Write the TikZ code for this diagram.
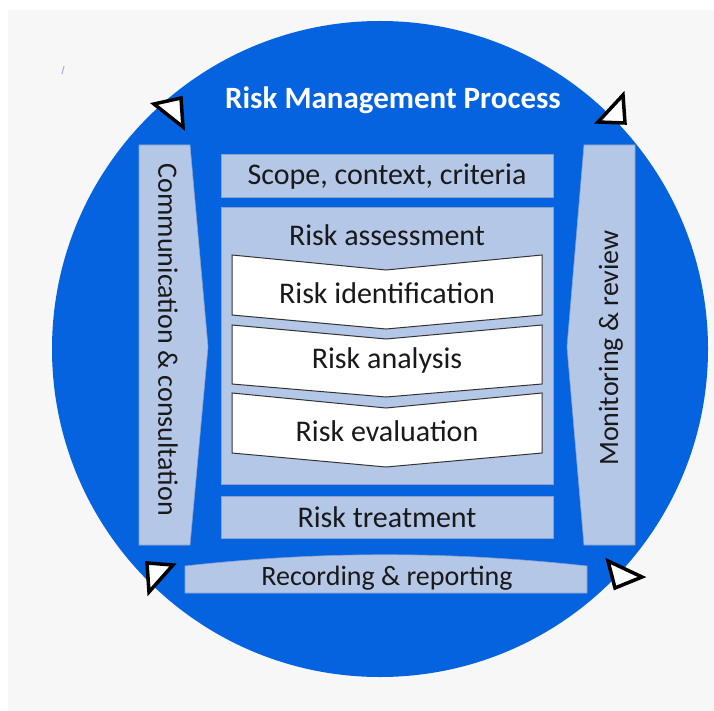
\documentclass[tikz,border=0pt]{standalone}
\usepackage{fontspec}
\setmainfont{Carlito}
\definecolor{discblue}{RGB}{5,99,224}
\definecolor{panelblue}{RGB}{181,199,231}
\definecolor{paneledge}{RGB}{140,162,204}
\definecolor{inkdark}{RGB}{25,25,25}
\definecolor{paper}{RGB}{247,247,247}
\begin{document}
\begin{tikzpicture}[x=1pt,y=-1pt,
  panel/.style={fill=panelblue,draw=paneledge,line width=0.6pt},
  chevron/.style={fill=white,draw=black!80,line width=1pt,line join=miter},
  lbl/.style={text=inkdark,inner sep=0pt,font=\fontsize{30}{36}\selectfont},
  sidelbl/.style={text=inkdark,inner sep=0pt,font=\fontsize{28}{34}\selectfont},
  cycletip/.style={fill=white,draw=black,line width=3.5pt,line join=miter}]
% canvas
\useasboundingbox (0,0) rectangle (714,711);
\fill[white] (0,0) rectangle (714,711);
\fill[paper] (8,10) rectangle (714,711);
\draw[panelblue!80!gray,line width=1.2pt] (64,66) -- (62,74);
% blue disc
\fill[discblue] (380,349) circle[radius=328];
\node[text=white,inner sep=0pt,font=\fontsize{31}{37}\selectfont\bfseries] (title) at (393,100) {Risk Management Process};
% centre column
\draw[panel] (221,154) rectangle (553,197);
\node[lbl] (scope) at (387,177) {Scope, context, criteria};
\draw[panel] (221,207) rectangle (553,484);
\node[lbl] (assess) at (387,235) {Risk assessment};
\draw[chevron] (232,255) -- (386,270) -- (542,255) -- (542,315) -- (386,329) -- (232,315) -- cycle;
\node[lbl] (ident) at (387,293) {Risk identification};
\draw[chevron] (232,325) -- (386,339) -- (542,325) -- (542,384) -- (386,397) -- (232,384) -- cycle;
\node[lbl] (analysis) at (387,361) {Risk analysis};
\draw[chevron] (232,393) -- (386,408) -- (542,393) -- (542,453) -- (386,467) -- (232,453) -- cycle;
\node[lbl] (evaluation) at (387,431) {Risk evaluation};
\draw[panel] (221,496) rectangle (553,538);
\node[lbl] (treatment) at (387,517) {Risk treatment};
% side bars
\draw[panel] (139,145) -- (190,145) -- (208,347) -- (190,545) -- (139,545) -- cycle;
\node[sidelbl,rotate=-90] (comm) at (168,340) {Communication \& consultation};
\draw[panel] (584,145) -- (635,145) -- (635,545) -- (584,545) -- (567,347) -- cycle;
\node[sidelbl,rotate=90] (monitor) at (611,348) {Monitoring \& review};
% bottom bar
\draw[panel] (185,566) .. controls (320,551) and (450,551) .. (587,566) -- (587,593) -- (185,593) -- cycle;
\node[sidelbl] (record) at (387,578) {Recording \& reporting};
% arrow heads around the cycle
\draw[cycletip] (154,104) -- (181,98) -- (183,127) -- cycle;
\draw[cycletip] (623,95) -- (598,122) -- (625,123) -- cycle;
\draw[cycletip] (147,563) -- (173,565) -- (149,592) -- cycle;
\draw[cycletip] (608,561) -- (642,577) -- (615,588) -- cycle;
\end{tikzpicture}
\end{document}
